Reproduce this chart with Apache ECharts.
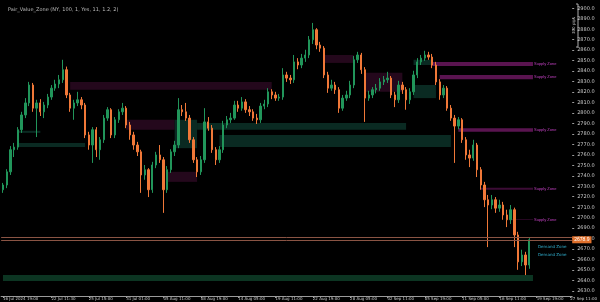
<!DOCTYPE html>
<html><head><meta charset="utf-8">
<script src="https://cdn.jsdelivr.net/npm/echarts@6/dist/echarts.min.js"></script>
<style>html,body{margin:0;padding:0;background:#000}#c{width:600px;height:302px}</style>
</head><body><div id="c"></div>
<script>
const firstOpen = 2726.7;
const closes = [2731.2,2743.8,2764.9,2767.4,2784.0,2798.1,2809.6,2826.7,2804.6,2809.6,
2801.1,2807.6,2815.2,2823.7,2827.7,2831.7,2841.3,2817.2,2804.6,2809.6,
2812.6,2807.6,2779.0,2769.4,2784.0,2764.9,2774.4,2795.1,2803.1,2779.0,
2793.5,2801.1,2804.6,2788.5,2779.0,2769.4,2762.9,2740.8,2745.8,2726.7,
2750.3,2759.9,2755.3,2726.7,2745.8,2762.9,2769.4,2803.1,2801.1,2795.1,
2774.4,2755.3,2743.8,2755.3,2791.5,2785.5,2764.9,2755.3,2764.9,2788.5,
2793.5,2795.1,2807.6,2804.6,2810.6,2803.1,2801.1,2795.1,2793.5,2806.6,
2808.6,2820.2,2817.2,2814.2,2815.2,2836.3,2833.3,2831.7,2848.8,2845.8,
2852.4,2855.4,2869.9,2879.5,2864.9,2861.9,2836.3,2823.7,2826.7,2822.2,
2804.6,2814.2,2817.2,2826.7,2850.8,2855.4,2841.3,2814.2,2817.2,2822.2,
2823.7,2829.7,2831.7,2833.3,2817.2,2812.6,2826.7,2822.2,2812.6,2820.2,
2836.3,2848.8,2852.4,2855.4,2853.4,2845.8,2829.7,2817.2,2823.7,2804.6,
2795.1,2787.5,2793.5,2774.4,2759.9,2756.9,2769.4,2745.8,2731.2,2717.1,
2712.1,2717.1,2709.1,2712.1,2702.6,2698.0,2707.6,2683.5,2657.8,2664.4,
2654.8,2678.9];
const highs = [2733.2,2746.3,2768.4,2771.4,2786.5,2801.1,2814.2,2829.7,2828.7,2812.6,
2813.2,2810.6,2818.2,2826.7,2831.7,2836.3,2850.8,2844.3,2819.2,2812.6,
2820.2,2815.2,2809.6,2782.0,2786.5,2786.5,2777.0,2798.1,2805.6,2804.6,
2796.1,2803.6,2809.6,2806.6,2791.5,2782.0,2772.4,2764.9,2750.3,2747.3,
2753.3,2762.9,2769.4,2757.9,2749.3,2765.4,2773.4,2814.2,2807.6,2809.6,
2798.1,2777.0,2757.9,2758.9,2804.6,2796.1,2788.5,2767.4,2768.4,2792.5,
2797.1,2800.1,2811.6,2811.6,2815.2,2813.2,2806.6,2803.6,2799.1,2809.6,
2812.6,2823.7,2822.7,2820.2,2818.2,2842.8,2839.3,2836.3,2855.4,2852.4,
2856.4,2860.4,2873.5,2886.0,2881.0,2867.9,2863.9,2839.3,2831.7,2829.7,
2824.7,2817.2,2821.2,2830.7,2854.4,2858.4,2857.4,2843.8,2821.2,2824.7,
2827.7,2833.3,2835.3,2839.3,2835.3,2820.2,2830.7,2829.7,2824.7,2823.7,
2840.3,2852.4,2855.4,2859.4,2858.4,2856.4,2848.8,2832.3,2826.7,2825.7,
2807.6,2798.1,2796.1,2795.1,2777.0,2764.9,2774.4,2771.4,2748.3,2734.2,
2721.7,2721.7,2719.7,2717.1,2715.1,2707.6,2712.1,2709.6,2686.5,2669.4,
2667.4,2680.5];
const lows = [2723.7,2728.2,2740.8,2757.9,2764.9,2781.0,2795.1,2806.6,2801.1,2777.0,
2797.1,2795.1,2804.6,2812.6,2821.2,2823.7,2828.7,2814.2,2801.1,2793.5,
2806.6,2803.6,2776.0,2764.9,2752.3,2757.9,2755.3,2771.4,2792.5,2776.0,
2776.0,2790.5,2798.1,2785.5,2774.4,2764.9,2758.9,2723.7,2736.2,2719.7,
2723.7,2747.3,2752.3,2704.6,2723.7,2742.8,2758.9,2766.4,2797.1,2792.5,
2771.4,2752.3,2738.8,2740.8,2752.3,2783.0,2761.9,2750.3,2752.3,2761.9,
2785.5,2790.5,2793.5,2801.1,2802.1,2800.1,2797.1,2792.5,2789.5,2790.5,
2803.6,2805.6,2813.2,2811.6,2811.6,2812.6,2829.7,2827.7,2828.7,2841.8,
2842.8,2848.8,2852.4,2865.9,2860.9,2858.4,2833.3,2819.2,2821.2,2818.2,
2800.1,2802.1,2811.6,2814.2,2823.7,2847.8,2837.3,2791.5,2811.6,2814.2,
2818.7,2821.2,2826.7,2828.7,2814.2,2805.6,2809.6,2818.2,2803.1,2808.6,
2817.2,2833.3,2845.8,2849.8,2850.8,2842.8,2826.7,2812.6,2814.2,2802.1,
2792.5,2752.3,2784.5,2771.4,2755.3,2748.3,2754.3,2738.8,2726.7,2710.1,
2671.9,2708.1,2704.6,2705.6,2698.0,2691.0,2694.0,2671.9,2650.2,2653.8,
2645.2,2651.2];
const totalSlots = 153;
const xLabels = ["16 Jul 2024 19:00","22 Jul 11:30","25 Jul 15:00","31 Jul 01:00","05 Aug 11:00","08 Aug 19:00","14 Aug 05:00","19 Aug 11:00","22 Aug 19:00","28 Aug 05:00","02 Sep 11:00","05 Sep 19:00","11 Sep 05:00","16 Sep 11:00","19 Sep 19:00","27 Sep 11:00"];
const xLabelIdx = [0,13,23,33,43,53,63,73,83,93,103,113,123,133,143,152];
const priceTicks = [2630,2640,2650,2660,2670,2680,2690,2700,2710,2720,2730,2740,2750,2760,2770,2780,2790,2800,2810,2820,2830,2840,2850,2860,2870,2880,2890,2900];
// zones: [startIndex, endIndex, top, bottom]
const supplyZonesDim = [[17.5,72.3,2829.7,2822.2],[33.1,46.4,2793.5,2784.0],[44,51.6,2743.8,2734.2],[86,93.5,2855.4,2847.8],[96.6,106.7,2838.3,2820.2]];
const supplyZonesActive = [[115.2,141.6,2848.8,2844.8],[116.5,141.6,2836.3,2832.3],[122,141.6,2785.5,2782.0],[128.4,141.6,2728.7,2726.7],[136.3,141.6,2698.6,2698.0]];
const supplyLabels = ["Supply Zone","Supply Zone","Supply Zone","Supply Zone","Supply Zone"];
const demandZones = [[4.3,9.6,2783.0,2781.0],[4,22,2771.4,2767.4],[46.3,52.4,2793.5,2766.4],[52.4,108,2790.5,2784.0],[58.3,120,2779.0,2767.4],[110.1,116,2826.7,2814.2],[110.1,115.2,2850.8,2845.8]];
const bottomZone = [-0.5,141.6,2645.3,2639.5];
const demandLabelPrices = [2654.0,2646.4];
const demandLabels = ["Demand Zone","Demand Zone"];
const bidPrice = 2678.9, askPrice = 2681.2;
const yMin = 2625.2, yMax = 2907.9;

const opens = [firstOpen].concat(closes.slice(0, closes.length - 1));
const candles = closes.map((c, i) => [opens[i], c, lows[i], highs[i]]);
const cats = [];
for (let i = 0; i < totalSlots; i++) {
  const k = xLabelIdx.indexOf(i);
  cats.push(k >= 0 ? xLabels[k] : 'c' + i);
}
const areaItem = (z, color) => [{xAxis: z[0], yAxis: z[2], itemStyle: {color: color}}, {xAxis: z[1], yAxis: z[3]}];
const dimAreas = supplyZonesDim.map(z => areaItem(z, '#24081c'));
const actAreas = supplyZonesActive.map((z, i) => {
  const a = areaItem(z, i < 3 ? '#5a1450' : '#3c0c36');
  a[0].label = {show: true, position: 'right', distance: 1, formatter: supplyLabels[i], color: '#c040c0', fontSize: 4};
  return a;
});
const demAreas = demandZones.map(z => areaItem(z, '#0a2a22'));
const botArea = [areaItem(bottomZone, '#0c3522')];

const chart = echarts.init(document.getElementById('c'));
chart.setOption({
  backgroundColor: '#000',
  animation: false,
  title: {text: 'Pair_Value_Zone (NY, 100, 1, Yes, 11, 1.2, 2)', left: 3, top: 2, textStyle: {color: '#bbbbbb', fontSize: 5, fontWeight: 'normal', fontFamily: 'DejaVu Sans'}},
  grid: {left: 0, right: 22, top: 0, bottom: 6},
  xAxis: {
    type: 'category', data: cats, boundaryGap: true,
    axisLine: {lineStyle: {color: '#9a9a9a', width: 1}},
    axisTick: {show: true, alignWithLabel: true, length: 2, lineStyle: {color: '#9a9a9a'}, interval: (i) => xLabelIdx.indexOf(i) >= 0},
    axisLabel: {
      interval: (i) => xLabelIdx.indexOf(i) >= 0,
      formatter: (v) => (v.charAt(0) === 'c' ? '' : v),
      color: '#c8c8c8', fontSize: 4, margin: 1, align: 'left', fontFamily: 'DejaVu Sans'
    },
    splitLine: {show: false}
  },
  yAxis: {
    type: 'value', position: 'right', min: yMin, max: yMax, scale: true,
    axisLine: {show: false},
    axisTick: {show: true, length: 2, lineStyle: {color: '#9a9a9a'}, customValues: priceTicks},
    axisLabel: {customValues: priceTicks, formatter: (v) => v.toFixed(1), color: '#c8c8c8', fontSize: 5, margin: 5, fontFamily: 'DejaVu Sans'},
    splitLine: {show: false}
  },
  series: [
    {
      type: 'line', data: [], z: 1, silent: true,
      markArea: {silent: true, data: dimAreas.concat(demAreas, botArea, actAreas)},
      markLine: {
        silent: true, symbol: 'none', animation: false,
        data: [
          {yAxis: askPrice, lineStyle: {color: '#8a5444', width: 1, type: 'solid'}, label: {show: false}},
          {yAxis: bidPrice, lineStyle: {color: '#8a5444', width: 1, type: 'solid'},
           label: {show: true, position: 'end', distance: 0, formatter: bidPrice.toFixed(1), color: '#fff', fontSize: 5, backgroundColor: '#e0702c', padding: [1, 2]}},
          {yAxis: demandLabelPrices[0], lineStyle: {opacity: 0}, label: {show: false}},
          {yAxis: demandLabelPrices[1], lineStyle: {opacity: 0}, label: {show: false}}
        ]
      }
    },
    {
      type: 'candlestick', data: candles, z: 3, barMaxWidth: 2.2,
      itemStyle: {color: '#21955a', color0: '#f07838', borderColor: '#21955a', borderColor0: '#f07838', borderWidth: 1}
    }
  ],
  graphic: [
    {type: 'line', shape: {x1: 578, y1: 4, x2: 578, y2: 47}, style: {stroke: '#aaaaaa', lineWidth: 1}},
    {type: 'line', shape: {x1: 576, y1: 4, x2: 578, y2: 4}, style: {stroke: '#aaaaaa', lineWidth: 1}},
    {type: 'line', shape: {x1: 576, y1: 47, x2: 578, y2: 47}, style: {stroke: '#aaaaaa', lineWidth: 1}},
    {type: 'text', x: 572, y: 34, rotation: Math.PI / 2, style: {text: '300 pips', fill: '#bbbbbb', fontSize: 4, fontFamily: 'DejaVu Sans'}},
    {type: 'text', x: 538, y: 245, style: {text: demandLabels[0], fill: '#30b0d0', fontSize: 4, fontFamily: 'DejaVu Sans'}},
    {type: 'text', x: 538, y: 253, style: {text: demandLabels[1], fill: '#30b0d0', fontSize: 4, fontFamily: 'DejaVu Sans'}}
  ]
});
</script></body></html>
